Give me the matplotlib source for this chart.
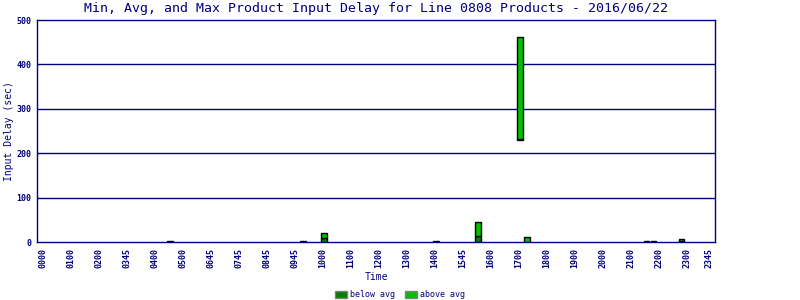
import numpy as np
import matplotlib
matplotlib.use("Agg")
import matplotlib.pyplot as plt
from matplotlib.patches import Patch

# time labels along the x axis
time_labels = ["0000", "0100", "0200", "0345", "0400", "0500", "0645", "0745",
               "0845", "0945", "1000", "1100", "1200", "1300", "1400", "1545",
               "1600", "1700", "1800", "1900", "2000", "2100", "2200", "2300", "2345"]

# bar positions (in label slots) and min / avg / max delay (sec)
bar_pos = [4.55, 9.3, 10.05, 14.04, 15.55, 17.05, 17.3, 21.55, 21.8, 22.8]
min_delay = [0, 0, 0, 0, 0, 230, 0, 0, 0, 0]
avg_delay = [1, 1, 8, 1, 13, 231, 0.5, 1, 1, 3]
max_delay = [3, 3, 20, 3, 44, 461, 11, 3, 3, 7]

navy = "#000080"
dark_green = "#008000"
light_green = "#00c000"
font = "DejaVu Sans Mono"

fig = plt.figure(figsize=(8, 3), dpi=100)
ax = fig.add_axes([37/800, 1-242/300, 678/800, 222/300])

mn = np.array(min_delay); av = np.array(avg_delay); mx = np.array(max_delay)
ax.bar(bar_pos, av - mn, bottom=mn, width=0.2, color=dark_green,
       edgecolor="black", linewidth=1, zorder=3)
ax.bar(bar_pos, mx - av, bottom=av, width=0.2, color=light_green,
       edgecolor="black", linewidth=1, zorder=3)

ax.set_xlim(-0.2, 24)
ax.set_ylim(0, 500)
yt = [0, 100, 200, 300, 400, 500]
ax.set_yticks(yt)
ax.set_yticklabels([str(v) for v in yt], fontsize=6, fontweight="bold",
                   color=navy, family=font)
for v in yt[1:-1]:
    ax.axhline(v, color=navy, linewidth=1, zorder=1)

xpos = np.arange(len(time_labels), dtype=float)
xpos[-1] -= 0.23
ax.set_xticks(xpos)
ax.set_xticklabels(time_labels, rotation=90, fontsize=6, fontweight="bold",
                   color=navy, family=font)
ax.tick_params(length=0, pad=4)

for s in ax.spines.values():
    s.set_color(navy)
    s.set_linewidth(1.0)

ax.set_title("Min, Avg, and Max Product Input Delay for Line 0808 Products - 2016/06/22",
             fontsize=9.5, color=navy, family=font, pad=6)
ax.set_ylabel("Input Delay (sec)", fontsize=7, color=navy, family=font, labelpad=2)
ax.set_xlabel("Time", fontsize=7, color=navy, family=font, labelpad=3)

handles = [Patch(facecolor=dark_green, edgecolor="grey", label="below avg"),
           Patch(facecolor=light_green, edgecolor="grey", label="above avg")]
fig.legend(handles=handles, loc="center", bbox_to_anchor=(0.5, 0.017), ncol=2,
           frameon=False, prop={"family": font, "size": 6},
           labelcolor=navy, handlelength=1.45, handleheight=1.0,
           handletextpad=0.45, columnspacing=1.1)

fig.savefig("out.png", dpi=100)
